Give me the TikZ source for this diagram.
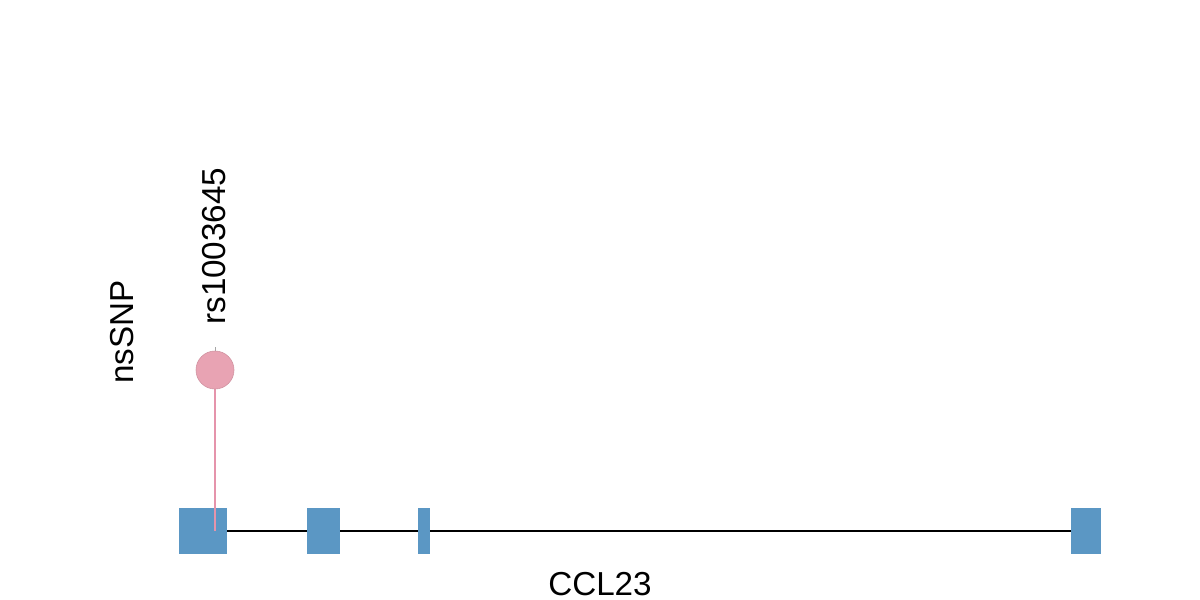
\documentclass[tikz,border=0pt]{standalone}
\usepackage{fontspec}
\setmainfont{Liberation Sans}
\definecolor{exonblue}{RGB}{91,151,196}
\definecolor{snppink}{RGB}{232,163,179}
\definecolor{stempink}{RGB}{229,148,171}
\begin{document}
\begin{tikzpicture}[x=0.5pt,y=-0.5pt,font=\fontsize{16.6}{20}\selectfont,
  exon/.style={fill=exonblue,draw=none,inner sep=0pt,minimum height=23pt},
  snp/.style={circle,fill=snppink,draw=snppink!90!black,line width=0.3pt,inner sep=0pt,minimum size=19pt},
  intron/.style={line width=1pt,black}]
\useasboundingbox (0,0) rectangle (1200,600);

% exons of the gene
\foreach \n/\cx/\w in {1/203/24, 2/323.5/16.5, 3/424/6, 4/1086/15}{
\node[exon,minimum width=\w pt] (e_\n) at (\cx,531) {};
}

% introns
\foreach \a/\b in {1/2, 2/3, 3/4}{
\draw[intron] (e_\a.east) -- (e_\b.west);
}

\coordinate (site) at (215,531);
\coordinate (tick) at (215,347);
\draw[gray!70,line width=0.4pt] (site) -- (tick);
\draw[stempink,line width=1pt] (site) -- (215,370);
\node[snp] (s_1) at (215,370) {};

\node[rotate=90,anchor=west,inner sep=0pt] (lab_1) at (214,325) {rs1003645};
\node[rotate=90,inner sep=0pt] (track) at (122,332) {nsSNP};
\node[inner sep=0pt] (gene) at (600,584) {CCL23};

\end{tikzpicture}
\end{document}
